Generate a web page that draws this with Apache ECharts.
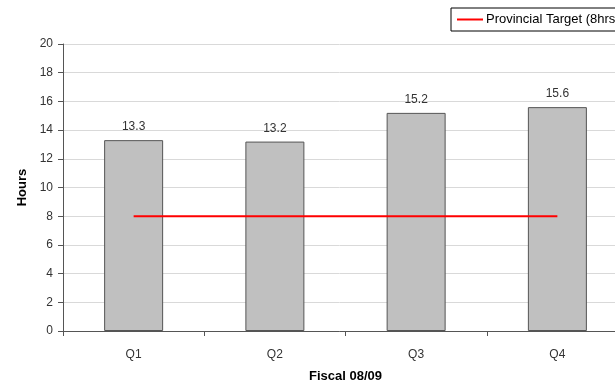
<!DOCTYPE html>
<html>
<head>
<meta charset="utf-8">
<script src="https://cdn.jsdelivr.net/npm/echarts@6/dist/echarts.min.js"></script>
<style>
  html, body { margin: 0; padding: 0; background: #fff; }
  #chart { width: 615px; height: 383px; }
</style>
</head>
<body>
<div id="chart"></div>
<script>
var quarters = ['Q1', 'Q2', 'Q3', 'Q4'];
var hoursValues = [13.3, 13.2, 15.2, 15.6];
var targetValues = [8, 8, 8, 8];

var myChart = echarts.init(document.getElementById('chart'));
var font = 'Liberation Sans, Arial, sans-serif';
var option = {
    animation: false,
    textStyle: { fontFamily: font },
    legend: {
        data: ['Provincial Target (8hrs)'],
        left: 451,
        top: 8,
        padding: [5, 8, 5, 6],
        borderColor: '#000',
        borderWidth: 1,
        borderRadius: 0,
        icon: 'path://M0,0 L26,0 L26,2 L0,2 Z',
        itemWidth: 26,
        itemHeight: 2,
        itemGap: 4,
        textStyle: { fontFamily: font, fontSize: 13, color: '#000', padding: [0, 0, 0, -2] }
    },
    grid: {
        left: 63,
        top: 44,
        height: 287,
        width: 565,
        containLabel: false,
        outerBoundsMode: 'none'
    },
    xAxis: {
        type: 'category',
        data: quarters,
        name: 'Fiscal 08/09',
        nameLocation: 'middle',
        nameGap: 39,
        nameTextStyle: { fontFamily: font, fontSize: 13, fontWeight: 'bold', color: '#000' },
        axisLine: { lineStyle: { color: '#555' } },
        axisTick: { show: true, length: 5, lineStyle: { color: '#555' } },
        axisLabel: { margin: 18, fontSize: 12, color: '#333' }
    },
    yAxis: {
        type: 'value',
        min: 0,
        max: 20,
        interval: 2,
        name: 'Hours',
        nameLocation: 'middle',
        nameGap: 32,
        nameTextStyle: { fontFamily: font, fontSize: 13, fontWeight: 'bold', color: '#000' },
        axisLine: { show: true, lineStyle: { color: '#555' } },
        axisTick: { show: true, length: 5, lineStyle: { color: '#555' } },
        axisLabel: { margin: 10, fontSize: 12, color: '#333' },
        splitLine: { lineStyle: { color: '#d9d9d9', width: 1 } }
    },
    series: [{
        name: 'Hours',
        type: 'bar',
        data: hoursValues,
        barWidth: 59,
        itemStyle: { color: '#c0c0c0', borderColor: '#555', borderWidth: 1 },
        label: {
            show: true,
            position: 'top',
            distance: 7,
            fontSize: 12,
            color: '#333'
        }
    }, {
        name: 'Provincial Target (8hrs)',
        type: 'line',
        data: targetValues,
        symbol: 'circle',
        symbolSize: 2,
        showSymbol: false,
        lineStyle: { color: '#ff0000', width: 2 },
        itemStyle: { color: '#ff0000' }
    }]
};
myChart.setOption(option);
</script>
</body>
</html>
